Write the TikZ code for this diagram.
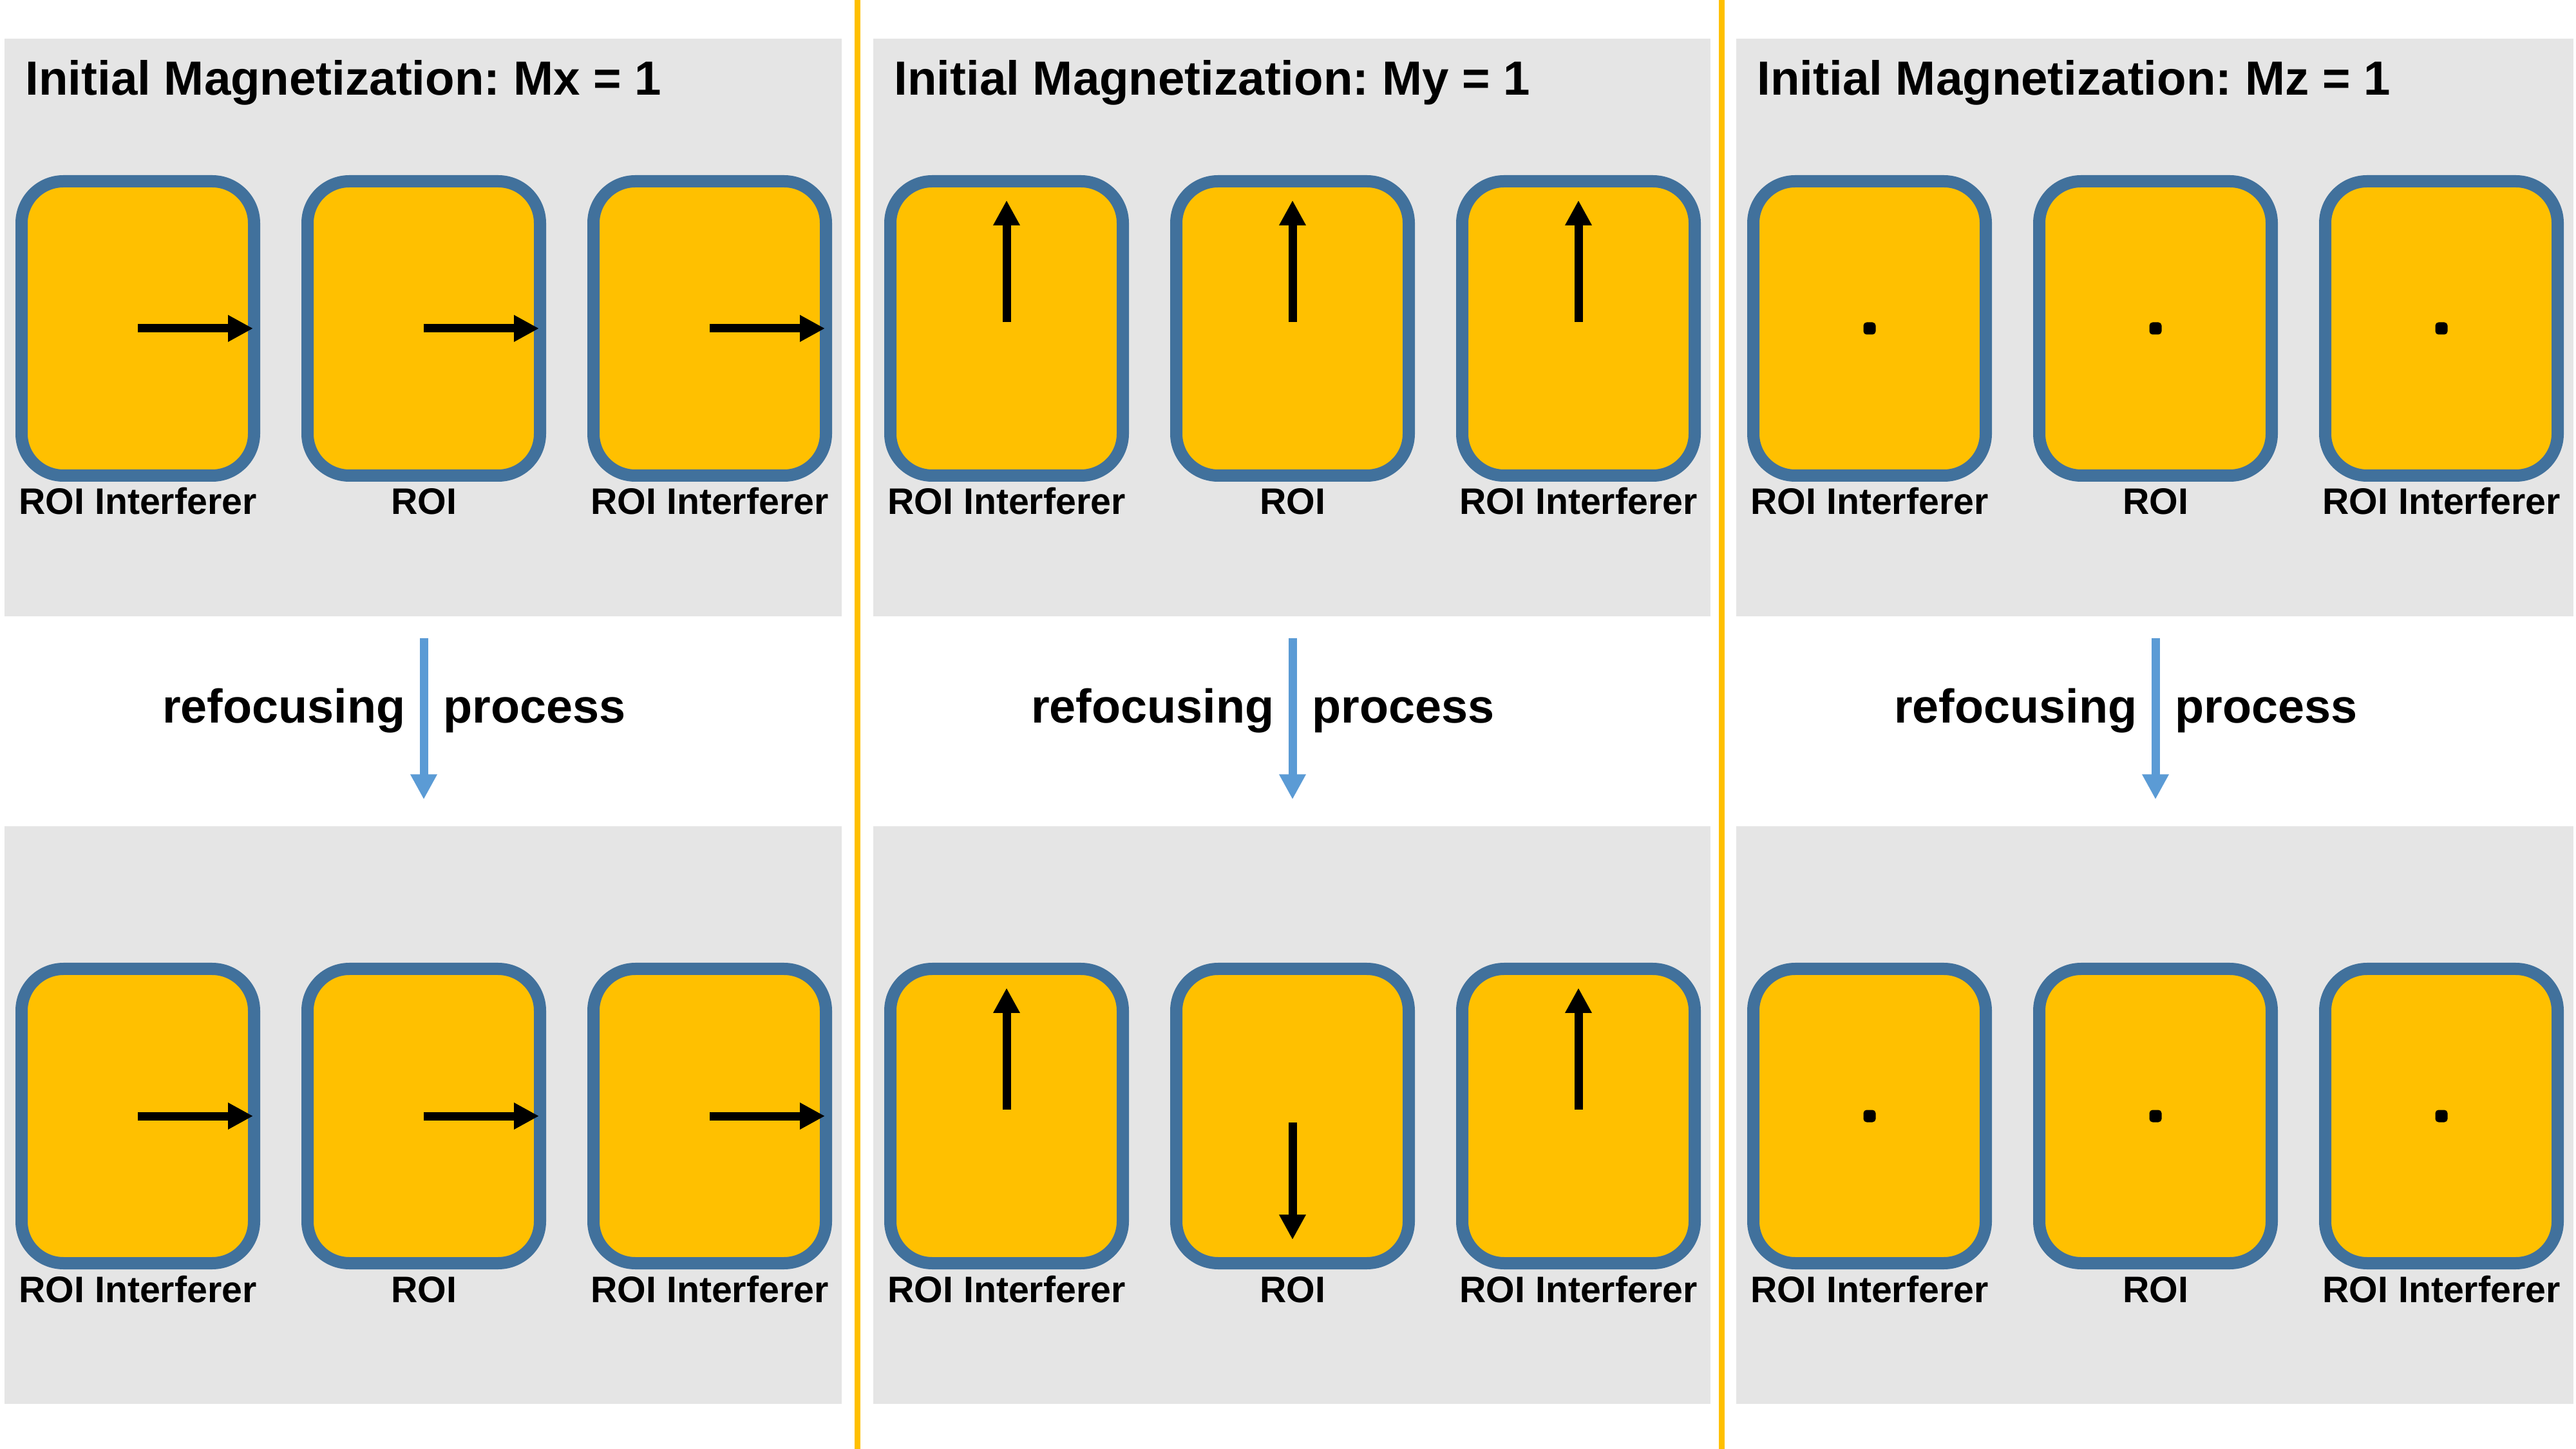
\documentclass[tikz,border=0pt]{standalone}
\usepackage{fontspec}
\setmainfont{Liberation Sans}
\usetikzlibrary{arrows.meta,positioning}
\definecolor{roigold}{HTML}{FFC000}
\definecolor{roiedge}{HTML}{41719C}
\definecolor{panelgray}{HTML}{E5E5E5}
\definecolor{flowblue}{HTML}{5B9BD5}
\frenchspacing

\begin{document}
\begin{tikzpicture}[x=1cm,y=-1cm,
  graypanel/.style={fill=panelgray,minimum width=13cm,minimum height=8.97cm,inner sep=0pt},
  roibox/.style={draw=roiedge,line width=0.19cm,fill=roigold,rounded corners=0.65cm,minimum width=3.61cm,minimum height=4.57cm,inner sep=0pt},
  roilabel/.style={anchor=base,font=\bfseries\fontsize{16.3pt}{19pt}\selectfont,inner sep=0pt},
  paneltitle/.style={anchor=base west,font=\bfseries\fontsize{21.2pt}{25pt}\selectfont,inner sep=0pt},
  flowtext/.style={font=\bfseries\fontsize{21pt}{25pt}\selectfont,inner sep=0pt},
  spinvec/.style={line width=0.13cm,-{Triangle[length=0.39cm,width=0.39cm]}},
  flowarrow/.style={draw=flowblue,line width=0.13cm,-{Triangle[length=0.39cm,width=0.39cm]}},
  zdot/.style={fill=black,rounded corners=0.05cm,minimum size=0.19cm,inner sep=0pt},
  sepline/.style={draw=roigold,line width=0.09cm}]
\fill[white,use as bounding box] (0,0) rectangle (40,22.5);
% three panels: Mx, My, Mz
\foreach \p/\lx/\m in {mx/0.07/x,my/13.56/y,mz/26.96/z}{
  \node[graypanel] (\p-top) at (\lx+6.5,5.085) {};
  \node[graypanel] (\p-bot) at (\lx+6.5,17.315) {};
  \node[paneltitle] (\p-title) at (\lx+0.32,1.48) {Initial Magnetization: M\m{} = 1};
  \foreach \k/\dx/\txt in {1/2.07/ROI Interferer,2/6.51/ROI,3/10.95/ROI Interferer}{
    \node[roibox] (\p-t\k) at (\lx+\dx,5.10) {};
    \node[roilabel] (\p-tl\k) at (\lx+\dx,7.99) {\txt};
    \node[roibox] (\p-b\k) at (\lx+\dx,17.33) {};
    \node[roilabel] (\p-bl\k) at (\lx+\dx,20.22) {\txt};
  }
  \draw[flowarrow,shorten <=0.33cm,shorten >=0.41cm] (\p-top.south -| \p-t2) -- (\p-bot.north -| \p-t2);
  \node[flowtext,anchor=base east] (\p-refoc) at (\lx+6.23,11.23) {refocusing};
  \node[flowtext,anchor=base west] (\p-proc) at (\lx+6.81,11.23) {process};
}
\draw[sepline] (13.31,0) -- (13.31,22.5);
\draw[sepline] (26.73,0) -- (26.73,22.5);
% Mx stays along x
\foreach \r in {t,b}
  \foreach \k in {1,2,3}
    \draw[spinvec] (mx-\r\k.center) -- ++(1.79,0);
% My: centre spin flips after refocusing
\foreach \k in {1,2,3}
  \draw[spinvec] ([yshift=0.10cm]my-t\k.center) -- ++(0,-1.89);
\draw[spinvec] ([yshift=0.10cm]my-b1.center) -- ++(0,-1.89);
\draw[spinvec] ([yshift=-0.10cm]my-b2.center) -- ++(0,1.82);
\draw[spinvec] ([yshift=0.10cm]my-b3.center) -- ++(0,-1.89);
% Mz stays along z
\foreach \r in {t,b}
  \foreach \k in {1,2,3}
    \node[zdot] (mz-\r d\k) at (mz-\r\k) {};
\end{tikzpicture}
\end{document}
